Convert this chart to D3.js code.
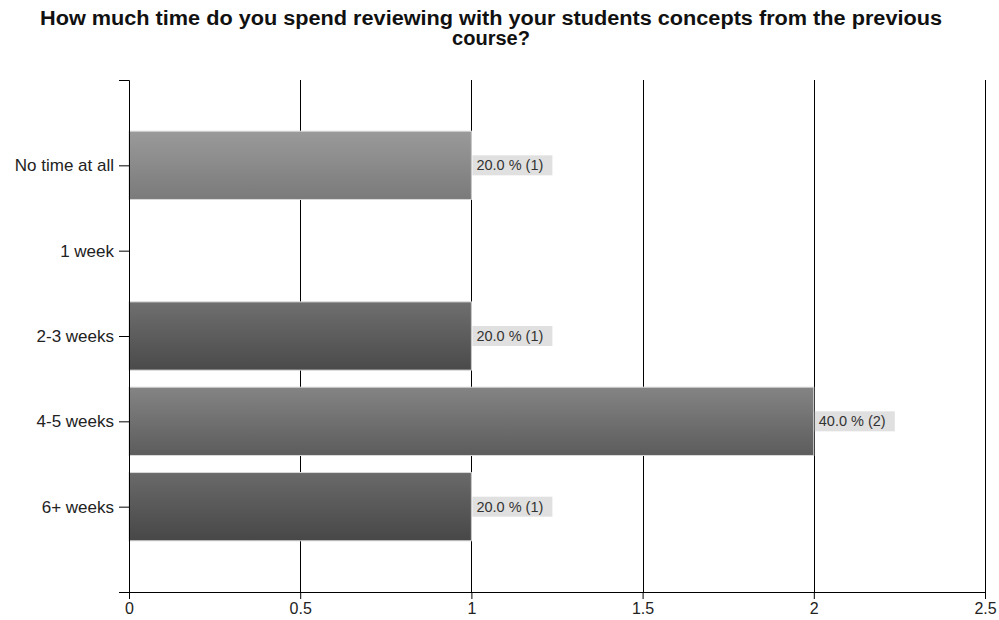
<!DOCTYPE html>
<html>
<head>
<meta charset="utf-8">
<script src="https://d3js.org/d3.v7.min.js"></script>
<style>
  html, body { margin: 0; padding: 0; background: #fff; }
  text { font-family: "Liberation Sans", Arial, sans-serif; }
</style>
</head>
<body>
<svg id="chart" width="999" height="620"></svg>
<script>
const titleLines = ["How much time do you spend reviewing with your students concepts from the previous", "course?"];
const categories = ["No time at all", "1 week", "2-3 weeks", "4-5 weeks", "6+ weeks"];
const counts = [1, 0, 1, 2, 1];
const percents = [20.0, 0, 20.0, 40.0, 20.0];
const xTicks = [0, 0.5, 1, 1.5, 2, 2.5];
const xTickLabels = ["0", "0.5", "1", "1.5", "2", "2.5"];

const barTop = ["#9a9a9a", "#888888", "#6f6f6f", "#848484", "#6a6a6a"];
const barBottom = ["#7a7a7a", "#666666", "#4a4a4a", "#5c5c5c", "#474747"];

const svg = d3.select("#chart");
const margin = {left: 129, right: 14, top: 80, bottom: 28};
const W = 999, H = 620;
const x = d3.scaleLinear().domain([0, 2.5]).range([margin.left, W - margin.right]);
const y = d3.scalePoint().domain(categories).range([margin.top, H - margin.bottom]).padding(1);
const step = y.step();
const barH = step * 0.8;

// gradients
const defs = svg.append("defs");
categories.forEach((c, i) => {
  const g = defs.append("linearGradient").attr("id", "g" + i)
    .attr("x1", 0).attr("y1", 0).attr("x2", 0).attr("y2", 1);
  g.append("stop").attr("offset", "0%").attr("stop-color", barTop[i]);
  g.append("stop").attr("offset", "100%").attr("stop-color", barBottom[i]);
});

// title
svg.append("g").selectAll("text").data(titleLines).join("text")
  .attr("x", 491).attr("y", (d, i) => 25 + i * 20)
  .attr("text-anchor", "middle")
  .attr("font-weight", "bold").attr("font-size", 20)
  .attr("fill", "#111")
  .attr("textLength", (d, i) => i === 0 ? 902 : 78)
  .attr("lengthAdjust", "spacingAndGlyphs")
  .text(d => d);

// gridlines
svg.append("g").selectAll("line").data(xTicks.slice(1)).join("line")
  .attr("x1", d => Math.round(x(d)) + 0.5).attr("x2", d => Math.round(x(d)) + 0.5)
  .attr("y1", margin.top).attr("y2", H - margin.bottom)
  .attr("stroke", "#000").attr("stroke-width", 1);

// bars
const data = categories.map((c, i) => ({c, v: counts[i], p: percents[i], i}));
svg.append("g").selectAll("rect").data(data.filter(d => d.v > 0)).join("rect")
  .attr("x", x(0))
  .attr("y", d => y(d.c) - barH / 2)
  .attr("width", d => x(d.v) - x(0))
  .attr("height", barH)
  .attr("fill", d => "url(#g" + d.i + ")")
  .attr("stroke", "#d8d8d8").attr("stroke-width", 1);

// value labels
const lab = svg.append("g").selectAll("g").data(data.filter(d => d.v > 0)).join("g")
  .attr("transform", d => `translate(${x(d.v) + 1},${y(d.c)})`);
lab.append("rect").attr("x", 0).attr("y", -10).attr("width", 80).attr("height", 20)
  .attr("fill", "#e0e0e0");
lab.append("text").attr("x", 4).attr("y", 5).attr("font-size", 14.5).attr("fill", "#333")
  .text(d => d.p.toFixed(1) + " % (" + d.v + ")");

// y axis
const yAxis = d3.axisLeft(y).tickSize(10).tickSizeOuter(10).tickPadding(5);
const gy = svg.append("g").attr("transform", `translate(${x(0)},0)`).call(yAxis);
gy.attr("font-size", null).attr("font-family", null);
gy.selectAll("text").attr("font-size", 17).attr("fill", "#222");
gy.select(".domain").attr("stroke", "#000");

// x axis
const xAxis = d3.axisBottom(x).tickValues(xTicks).tickFormat((d, i) => xTickLabels[i]).tickSize(7).tickSizeOuter(0).tickPadding(4);
const gx = svg.append("g").attr("transform", `translate(0,${H - margin.bottom})`).call(xAxis);
gx.attr("font-size", null).attr("font-family", null);
gx.selectAll("text").attr("font-size", 16).attr("fill", "#222");
gx.select(".domain").attr("stroke", "#000");
</script>
</body>
</html>
